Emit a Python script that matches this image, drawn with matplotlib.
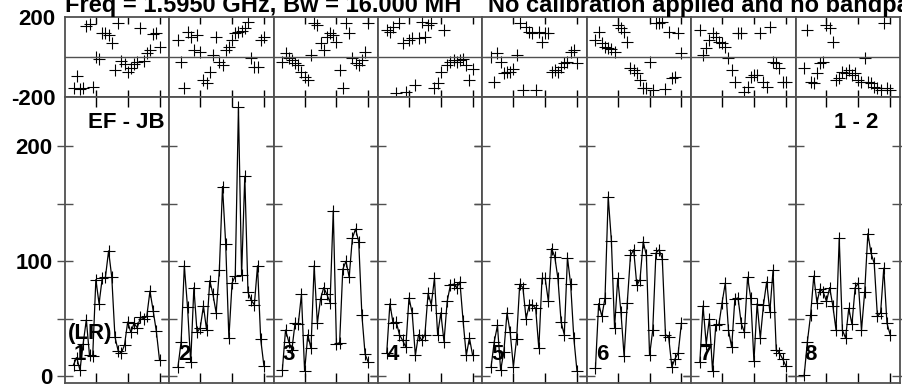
import numpy as np
import matplotlib
matplotlib.use("Agg")
from matplotlib import pyplot as plt

plt.rcParams["font.family"] = ["Liberation Sans", "DejaVu Sans"]
plt.rcParams["font.weight"] = "bold"

title_text = "Freq = 1.5950 GHz, Bw = 16.000 MH    No calibration applied and no bandpass applied"
baseline_label = "EF - JB"
stokes_label = "(LR)"
scan_label = "1 - 2"

channels = list(range(3, 31))
if_labels = ["1", "2", "3", "4", "5", "6", "7", "8"]

amp_if1 = [10, 16, 5, 28, 49, 18, 17, 84, 63, 85, 86, 109, 86, 34, 22, 20, 27, 47, 38, 46, 42, 51, 50, 52, 74, 57, 39, 14]
amp_if2 = [8, 30, 96, 60, 12, 77, 38, 42, 61, 40, 83, 71, 55, 92, 165, 115, 33, 81, 87, 234, 88, 174, 73, 66, 62, 96, 32, 9]
amp_if3 = [5, 40, 30, 23, 46, 45, 71, 4, 36, 24, 96, 46, 67, 77, 71, 64, 144, 28, 29, 93, 100, 86, 120, 128, 117, 53, 19, 12]
amp_if4 = [20, 63, 46, 47, 36, 31, 25, 68, 55, 18, 36, 31, 36, 72, 62, 85, 36, 55, 30, 65, 79, 80, 77, 82, 48, 18, 33, 18]
amp_if5 = [8, 30, 44, 5, 21, 55, 38, 8, 32, 80, 77, 50, 62, 62, 59, 24, 85, 85, 65, 111, 104, 85, 47, 36, 103, 80, 33, 4]
amp_if6 = [7, 63, 52, 68, 156, 118, 42, 85, 56, 17, 64, 105, 110, 79, 84, 117, 105, 18, 40, 107, 110, 102, 36, 34, 8, 15, 20, 46]
amp_if7 = [12, 61, 28, 50, 4, 44, 45, 64, 81, 40, 25, 67, 68, 46, 38, 86, 68, 13, 63, 33, 62, 82, 56, 92, 23, 20, 15, 9]
amp_if8 = [1, 30, 53, 87, 64, 76, 73, 65, 77, 61, 40, 120, 40, 33, 59, 45, 77, 81, 40, 73, 124, 107, 98, 52, 55, 94, 46, 36]

phase_if1 = [-157, -95, -162, -157, 155, 165, -150, 2, -12, 118, 118, 110, 68, -65, 172, -18, -35, -73, -57, -35, -23, 143, -20, 22, 35, 115, 122, 52]
phase_if2 = [85, -23, -157, 127, 102, 35, 110, 27, -115, -130, -73, 10, 102, -23, -40, 35, 52, 85, 118, 127, 130, 143, 177, -7, -48, -48, 85, 102]
phase_if3 = [-23, 18, -7, -15, -32, -40, -73, -98, -115, 10, 168, 160, 72, 35, 102, 118, 110, 77, -65, -157, 168, 118, -7, -32, -40, -15, 27, 168]
phase_if4 = [135, 127, 152, -178, 168, 68, -173, 85, 93, -140, 93, 177, 102, 160, 168, -157, -132, -73, 135, -40, -25, -15, -23, -15, -10, -40, -115, -60]
phase_if5 = [2, -123, 18, -23, -82, -73, -73, -60, 10, 168, -165, 152, 127, 118, -165, 127, 77, 118, 118, -73, -65, -73, -48, -32, -23, 27, 35, -32]
phase_if6 = [85, 127, 68, 52, 43, 38, 27, 160, 143, 127, 77, -57, -65, -82, -115, -157, -157, -23, -165, 168, 168, 177, -160, 127, -107, -98, 118, 18]
phase_if7 = [135, 10, 43, 85, 118, 102, 77, 68, 52, -7, -65, -123, 118, 118, -173, -148, -98, -90, -90, 118, -123, -148, 152, -23, -32, -57, -123, -123]
phase_if8 = [-57, 135, -123, -132, -80, -32, -23, 160, 143, 77, -115, -107, -73, -82, -65, -90, -82, -115, -123, -7, -123, -132, -148, -157, -165, 168, -157, -165]

amps = [amp_if1, amp_if2, amp_if3, amp_if4, amp_if5, amp_if6, amp_if7, amp_if8]
phases = [phase_if1, phase_if2, phase_if3, phase_if4, phase_if5, phase_if6, phase_if7, phase_if8]

W, H = 903, 384
fig = plt.figure(figsize=(W / 100, H / 100), dpi=100)

left_px, right_px = 65, 900
panel_w = (right_px - left_px) / 8
phase_top, split_px, amp_bottom = 17, 97, 383
frame_color = "#505050"

for i in range(8):
    x0 = (left_px + i * panel_w) / W

    # phase panel on top
    axp = fig.add_axes([x0, 1 - split_px / H, panel_w / W, (split_px - phase_top) / H])
    axp.plot(channels, phases[i], "+", color="black", markersize=8.5, mew=0.8, clip_on=False)
    axp.axhline(0, color=frame_color, lw=1.0)
    axp.set_xlim(0.3, 33.1)
    axp.set_ylim(-200, 200)
    axp.set_xticks([10, 20, 30])
    axp.tick_params(axis="x", direction="in", length=5, width=1, color="black",
                    labelbottom=False, top=True, bottom=True)
    if i == 0:
        axp.set_yticks([-200, 200])
        axp.set_yticklabels(["-200", "200"])
        axp.tick_params(axis="y", length=0, pad=7, labelsize=16)
    else:
        axp.set_yticks([])
    for sp in axp.spines.values():
        sp.set_color(frame_color)
        sp.set_linewidth(1.3)

    # amplitude panel below
    axa = fig.add_axes([x0, 1 - amp_bottom / H, panel_w / W, (amp_bottom - split_px) / H])
    axa.plot(channels, amps[i], "-", color="black", lw=0.9)
    axa.plot(channels, amps[i], "+", color="black", markersize=8.5, mew=0.8)
    axa.set_xlim(0.3, 33.1)
    axa.set_ylim(-6.1, 243)
    axa.set_xticks([10, 20, 30])
    axa.tick_params(axis="x", direction="in", length=7, width=1, color="black",
                    labelbottom=False, top=True, bottom=True)
    axa.set_yticks([0, 50, 100, 150, 200])
    axa.tick_params(axis="y", direction="inout", length=12, width=1, color=frame_color,
                    left=True, right=True, labelsize=16, pad=3)
    if i == 0:
        axa.set_yticklabels(["0", "", "100", "", "200"])
    else:
        axa.set_yticklabels([])
    for sp in axa.spines.values():
        sp.set_color(frame_color)
        sp.set_linewidth(1.3)

    fig.text((left_px + i * panel_w + 9) / W, 1 - 355 / H, if_labels[i],
             fontsize=16, fontweight="bold", ha="left", va="center")

fig.text(65 / W, 1 - 12 / H, title_text, fontsize=17, fontweight="bold",
         ha="left", va="baseline")
fig.text(88 / W, 1 - 123 / H, baseline_label, fontsize=16, fontweight="bold",
         ha="left", va="center")
fig.text(878 / W, 1 - 123 / H, scan_label, fontsize=16, fontweight="bold",
         ha="right", va="center")
fig.text(68 / W, 1 - 334 / H, stokes_label, fontsize=16, fontweight="bold",
         ha="left", va="center")

plt.savefig("out.png", dpi=100)
